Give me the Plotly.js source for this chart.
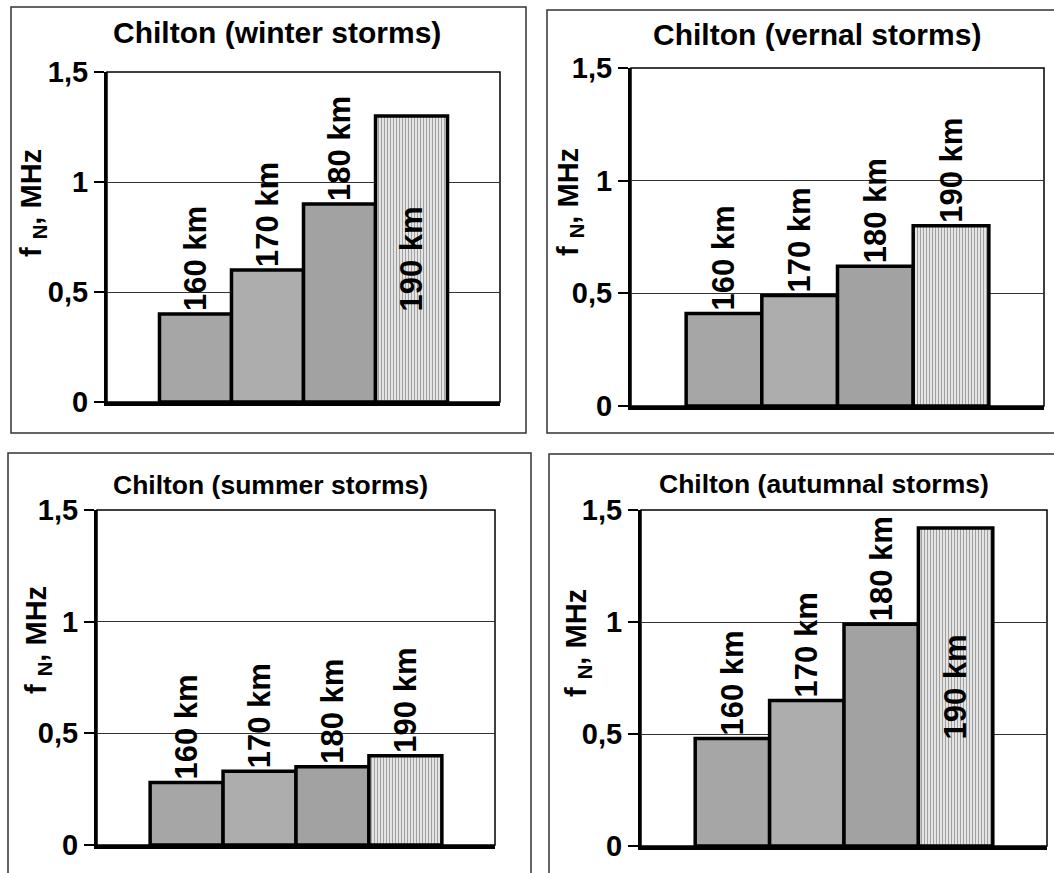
<!DOCTYPE html>
<html>
<head>
<meta charset="utf-8">
<script src="https://cdn.plot.ly/plotly-3.0.1.min.js"></script>
<style>html,body{margin:0;padding:0;background:#fff;}#chart{width:1054px;height:873px;}</style>
</head>
<body>
<div id="chart"></div>
<script>
// ---- data ----
const categories = ['160 km', '170 km', '180 km', '190 km'];
const panelTitles = ['Chilton (winter storms)', 'Chilton (vernal storms)', 'Chilton (summer storms)', 'Chilton (autumnal storms)'];
const winter = [0.40, 0.60, 0.90, 1.30];
const vernal = [0.41, 0.49, 0.62, 0.80];
const summer = [0.28, 0.33, 0.35, 0.40];
const autumnal = [0.48, 0.65, 0.99, 1.42];
const tickVals = [0, 0.5, 1, 1.5];
const tickText = ['0', '0,5', '1', '1,5'];
const yTitle = 'f <sub>N</sub>, MHz';

// ---- layout geometry (pixels) ----
const W = 1054, H = 873;
const series = [winter, vernal, summer, autumnal];
const plots = [
  {l: 107, r: 500, t: 72, b: 402},
  {l: 631, r: 1044, t: 68, b: 406},
  {l: 97, r: 495, t: 510, b: 845},
  {l: 641, r: 1047, t: 510, b: 846}
];
const borders = [
  {l: 11, r: 526, t: 7, b: 433},
  {l: 547, r: 1062, t: 10, b: 433},
  {l: 8, r: 531, t: 453, b: 885},
  {l: 549, r: 1062, t: 454, b: 885}
];
const titlePos = [{x: 277, y: 33}, {x: 817, y: 35}, {x: 270, y: 485}, {x: 824, y: 484}];
const yTitlePos = [{x: 33, y: 203}, {x: 570, y: 202}, {x: 38, y: 640}, {x: 578, y: 643}];

const styles = [
  {color: '#b0b0b0', pattern: {shape: '.', size: 2, solidity: 0.5, fgcolor: '#6e6e6e', bgcolor: '#d2d2d2'}},
  {color: '#b8b8b8', pattern: {shape: '.', size: 2, solidity: 0.5, fgcolor: '#808080', bgcolor: '#d0d0d0'}},
  {color: '#a2a2a2', pattern: {shape: '', size: 2, solidity: 0.2}},
  {color: '#e4e4e4', pattern: {shape: '|', size: 3, solidity: 0.4, fgcolor: '#a0a0a0', bgcolor: '#ececec'}}
];

const FONT = 'Liberation Sans, Arial, sans-serif';
const px = v => v / W;
const py = v => 1 - v / H;

const traces = [];
const layout = {
  width: W, height: H,
  margin: {l: 0, r: 0, t: 0, b: 0},
  paper_bgcolor: '#ffffff', plot_bgcolor: '#ffffff',
  showlegend: false,
  barmode: 'group', bargap: 0.267, bargroupgap: 0,
  font: {family: FONT, color: '#000'},
  shapes: [], annotations: []
};

series.forEach((vals, p) => {
  const sfx = p === 0 ? '' : String(p + 1);
  const xa = 'x' + sfx, ya = 'y' + sfx;
  vals.forEach((v, i) => {
    const st = styles[i];
    const marker = {color: st.color, line: {color: '#000', width: 3.5}};
    if (st.pattern.shape) marker.pattern = st.pattern;
    traces.push({
      type: 'bar', xaxis: xa, yaxis: ya,
      x: [panelTitles[p]], y: [v], name: categories[i],
      text: [categories[i]],
      textposition: v > 1.2 ? 'inside' : 'outside',
      insidetextanchor: 'middle',
      textangle: -90,
      constraintext: 'none',
      cliponaxis: false,
      textfont: {family: FONT, size: 31, weight: 'bold', color: '#000'},
      insidetextfont: {family: FONT, size: 31, weight: 'bold', color: '#000'},
      outsidetextfont: {family: FONT, size: 31, weight: 'bold', color: '#000'},
      marker: marker,
      hoverinfo: 'y+name'
    });
  });
  const g = plots[p];
  layout['xaxis' + sfx] = {
    domain: [px(g.l), px(g.r)], anchor: ya,
    showticklabels: false, ticks: '', showgrid: false, zeroline: false,
    showline: true, linewidth: 3.5, linecolor: '#000', fixedrange: true
  };
  layout['yaxis' + sfx] = {
    domain: [py(g.b), py(g.t)], anchor: xa,
    range: [0, 1.5], tickmode: 'array', tickvals: tickVals, ticktext: tickText,
    ticks: 'outside', ticklen: 10, tickwidth: 2, tickcolor: '#000',
    showline: true, linewidth: 3, linecolor: '#000',
    showgrid: true, gridcolor: '#333333', gridwidth: 1, zeroline: false,
    tickfont: {family: FONT, size: 29, weight: 'bold', color: '#000'},
    fixedrange: true
  };
  layout.shapes.push({type: 'rect', xref: xa + ' domain', yref: ya + ' domain', x0: 0, x1: 1, y0: 0, y1: 1,
    line: {color: '#000', width: 1.5}, layer: 'below'});
  const b = borders[p];
  layout.shapes.push({type: 'rect', xref: 'paper', yref: 'paper', x0: px(b.l), x1: px(b.r), y0: py(b.b), y1: py(b.t),
    line: {color: '#333', width: 1.5}});
  layout.annotations.push({xref: 'paper', yref: 'paper', x: px(titlePos[p].x), y: py(titlePos[p].y),
    xanchor: 'center', yanchor: 'middle', showarrow: false, text: panelTitles[p],
    font: {family: FONT, size: p >= 2 ? 26.5 : 30, weight: 'bold', color: '#000'}});
  layout.annotations.push({xref: 'paper', yref: 'paper', x: px(yTitlePos[p].x), y: py(yTitlePos[p].y),
    xanchor: 'center', yanchor: 'middle', showarrow: false, text: yTitle, textangle: -90,
    font: {family: FONT, size: 29, weight: 'bold', color: '#000'}});
});

Plotly.newPlot('chart', traces, layout, {displayModeBar: false, staticPlot: true});
</script>
</body>
</html>
